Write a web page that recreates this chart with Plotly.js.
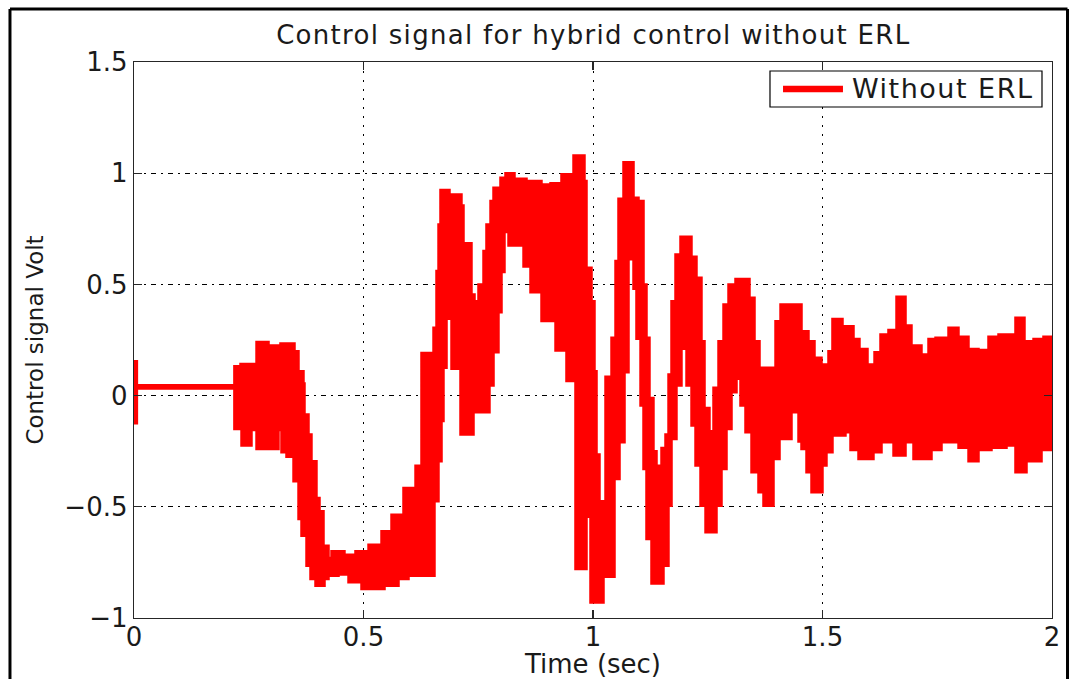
<!DOCTYPE html>
<html>
<head>
<meta charset="utf-8">
<script src="https://cdn.plot.ly/plotly-3.0.1.min.js"></script>
<style>
  html, body { margin: 0; padding: 0; background: #ffffff; }
  #chart { width: 1070px; height: 679px; }
  .gtitle { letter-spacing: 1.3px; }
  .annotation-text { letter-spacing: 1.5px; }
</style>
</head>
<body>
<div id="chart"></div>
<script>
// ---- data (upper / lower envelope of the dense control signal) ----
const timeUpper = [0, 0.003, 0.222, 0.2353, 0.2702, 0.2898, 0.2963, 0.3224, 0.3464, 0.3551, 0.366, 0.3682, 0.3769, 0.3834, 0.3943, 0.4009, 0.4096, 0.4205, 0.4336, 0.4553, 0.4858, 0.5142, 0.5425, 0.5643, 0.5904, 0.6166, 0.6296, 0.6492, 0.6558, 0.6623, 0.6667, 0.671, 0.6841, 0.695, 0.7102, 0.7146, 0.732, 0.7386, 0.7538, 0.7647, 0.7712, 0.78, 0.7865, 0.8017, 0.8126, 0.8257, 0.8344, 0.8519, 0.8584, 0.8845, 0.9107, 0.9237, 0.9346, 0.9542, 0.9608, 0.9782, 0.9826, 0.9935, 1.0, 1.0044, 1.0109, 1.0196, 1.0305, 1.0436, 1.0523, 1.0588, 1.0697, 1.085, 1.0959, 1.1068, 1.1133, 1.1198, 1.1285, 1.1351, 1.1525, 1.1612, 1.1678, 1.1743, 1.183, 1.1939, 1.2113, 1.2222, 1.2331, 1.2397, 1.2505, 1.2658, 1.2767, 1.2876, 1.2985, 1.3137, 1.3377, 1.3486, 1.3595, 1.3704, 1.4009, 1.4118, 1.451, 1.4662, 1.4793, 1.4946, 1.5054, 1.5163, 1.525, 1.5403, 1.5643, 1.5773, 1.5948, 1.61, 1.6166, 1.6296, 1.647, 1.6645, 1.6776, 1.6906, 1.7124, 1.7342, 1.7495, 1.7778, 1.793, 1.8148, 1.8366, 1.8649, 1.8867, 1.9237, 1.9368, 1.963, 1.9847, 2.0];
const voltUpper = [0.148, 0.04, 0.125, 0.135, 0.234, 0.148, 0.218, 0.228, 0.193, 0.103, 0.048, -0.092, -0.182, -0.302, -0.467, -0.527, -0.682, -0.737, -0.707, -0.722, -0.707, -0.677, -0.617, -0.542, -0.422, -0.322, 0.185, 0.043, 0.298, 0.553, 0.763, 0.918, 0.883, 0.898, 0.848, 0.678, 0.448, 0.418, 0.493, 0.643, 0.763, 0.868, 0.928, 0.973, 0.993, 0.958, 0.968, 0.898, 0.958, 0.943, 0.948, 0.858, 0.988, 0.853, 1.073, 0.958, 0.568, 0.418, 0.103, -0.272, -0.482, -0.557, 0.078, 0.253, 0.598, 0.878, 1.043, 0.883, 0.868, 0.493, 0.253, -0.017, -0.257, -0.322, -0.242, -0.182, 0.088, 0.418, 0.628, 0.708, 0.618, 0.523, 0.238, -0.062, -0.167, 0.028, 0.238, 0.403, 0.493, 0.518, 0.433, 0.238, 0.088, 0.118, 0.328, 0.403, 0.283, 0.238, 0.163, 0.073, 0.133, 0.193, 0.338, 0.305, 0.248, 0.203, 0.133, 0.073, 0.188, 0.268, 0.288, 0.438, 0.308, 0.218, 0.178, 0.248, 0.253, 0.298, 0.258, 0.203, 0.198, 0.258, 0.268, 0.343, 0.238, 0.248, 0.258, 0.258];
const timeLower = [0, 0.003, 0.222, 0.2375, 0.2527, 0.2702, 0.3115, 0.3246, 0.3355, 0.3508, 0.3617, 0.3682, 0.3791, 0.3878, 0.3987, 0.4118, 0.4205, 0.4423, 0.4706, 0.4989, 0.5425, 0.573, 0.5948, 0.6514, 0.6601, 0.6667, 0.671, 0.6776, 0.6841, 0.695, 0.7146, 0.7364, 0.7712, 0.78, 0.7908, 0.7974, 0.8039, 0.8192, 0.8519, 0.8671, 0.8911, 0.9216, 0.9455, 0.9651, 0.9826, 0.9978, 1.0196, 1.0436, 1.0545, 1.0654, 1.0741, 1.085, 1.0915, 1.098, 1.1068, 1.1133, 1.1198, 1.1307, 1.1503, 1.1612, 1.1678, 1.1786, 1.1895, 1.207, 1.2179, 1.2266, 1.2375, 1.2484, 1.2658, 1.2767, 1.2876, 1.2985, 1.3094, 1.3246, 1.3355, 1.3486, 1.3638, 1.3747, 1.39, 1.4031, 1.4292, 1.451, 1.4575, 1.4684, 1.4793, 1.4967, 1.5054, 1.5185, 1.5468, 1.5512, 1.5643, 1.5817, 1.6078, 1.6253, 1.658, 1.6776, 1.7015, 1.7342, 1.756, 1.7996, 1.8214, 1.8366, 1.8649, 1.8976, 1.9237, 1.9412, 1.9521, 1.9739, 2.0];
const voltLower = [-0.118, 0.04, -0.143, -0.218, -0.148, -0.233, -0.148, -0.248, -0.268, -0.378, -0.548, -0.623, -0.758, -0.818, -0.848, -0.818, -0.803, -0.798, -0.833, -0.863, -0.848, -0.818, -0.803, -0.468, -0.288, -0.108, 0.132, 0.352, 0.547, 0.127, -0.168, -0.068, 0.052, 0.202, 0.382, 0.562, 0.742, 0.682, 0.587, 0.472, 0.342, 0.209, 0.072, -0.773, -0.538, -0.923, -0.808, -0.368, -0.203, 0.112, 0.727, 0.62, 0.487, 0.262, -0.038, -0.323, -0.638, -0.838, -0.758, -0.488, -0.188, 0.052, 0.217, 0.052, -0.128, -0.308, -0.488, -0.608, -0.488, -0.323, -0.143, 0.022, 0.082, -0.038, -0.158, -0.338, -0.428, -0.488, -0.278, -0.188, -0.068, -0.2, -0.233, -0.338, -0.428, -0.308, -0.248, -0.173, -0.058, -0.158, -0.238, -0.278, -0.248, -0.203, -0.263, -0.203, -0.278, -0.238, -0.203, -0.228, -0.288, -0.238, -0.228, -0.218, -0.338, -0.228, -0.288, -0.238, -0.238];

const seriesName = 'Without ERL';
const xTickValues = [0, 0.5, 1, 1.5, 2];
const xTickLabels = ['0', '0.5', '1', '1.5', '2'];
const yTickValues = [-1, -0.5, 0, 0.5, 1, 1.5];
const yTickLabels = ['\u22121', '\u22120.5', '0', '0.5', '1', '1.5'];
const chartTitle = 'Control signal for hybrid control without ERL';
const xTitle = 'Time (sec)';
const yTitle = 'Control signal Volt';

// ---- styling ----
const RED = '#ff0000';
const INK = '#1a1a1a';
const FONT = 'DejaVu Sans, sans-serif';
const LW = 5.5;

const traces = [
  {
    x: timeUpper, y: voltUpper, type: 'scatter', mode: 'lines',
    name: seriesName, showlegend: false, hoverinfo: 'skip',
    line: { color: RED, width: LW, shape: 'hv' }
  },
  {
    x: timeLower, y: voltLower, type: 'scatter', mode: 'lines',
    name: seriesName, showlegend: false, hoverinfo: 'skip',
    fill: 'tonexty', fillcolor: RED,
    line: { color: RED, width: LW, shape: 'hv' }
  }
];

const axisCommon = {
  showline: true, linecolor: '#262626', linewidth: 1.3, mirror: 'ticks',
  ticks: 'inside', ticklen: 8, tickwidth: 1.3, tickcolor: '#262626',
  zeroline: false, showgrid: true, gridcolor: '#000000', gridwidth: 1,
  tickfont: { family: FONT, size: 26, color: INK },
  fixedrange: true
};

// legend box drawn in paper coordinates (top-right corner of the axes)
const legendBox = { x0: 0.6928, x1: 0.9891, y0: 0.9191, y1: 0.9838 };
const legendMidY = (legendBox.y0 + legendBox.y1) / 2;

const layout = {
  width: 1070, height: 679,
  margin: { l: 134, r: 18, t: 62, b: 61 },
  paper_bgcolor: '#ffffff', plot_bgcolor: '#ffffff',
  font: { family: FONT, color: INK },
  showlegend: false,
  title: {
    text: chartTitle, font: { family: FONT, size: 26, color: INK },
    x: 0.5545, xanchor: 'center', y: 0.949, yanchor: 'middle'
  },
  xaxis: Object.assign({}, axisCommon, {
    range: [0, 2], tickmode: 'array', tickvals: xTickValues, ticktext: xTickLabels,
    griddash: '2px,7px', ticklabelstandoff: -5,
    title: { text: xTitle, font: { family: FONT, size: 26, color: INK }, standoff: 4 }
  }),
  yaxis: Object.assign({}, axisCommon, {
    range: [-1, 1.5], tickmode: 'array', tickvals: yTickValues, ticktext: yTickLabels,
    griddash: '5px,5px,2px,5px',
    title: { text: yTitle, font: { family: FONT, size: 23, color: INK }, standoff: 14 }
  }),
  shapes: [
    // outer figure frame
    { type: 'line', xref: 'paper', yref: 'paper', x0: -0.1351, x1: -0.1351, y0: -0.2, y1: 1.0953, line: { color: '#000000', width: 3 } },
    { type: 'line', xref: 'paper', yref: 'paper', x0: -0.1351, x1: 1.0169, y0: 1.0953, y1: 1.0953, line: { color: '#000000', width: 3 } },
    { type: 'line', xref: 'paper', yref: 'paper', x0: 1.0169, x1: 1.0169, y0: -0.2, y1: 1.0953, line: { color: '#000000', width: 3 } },
    // legend box and its line sample
    { type: 'rect', xref: 'paper', yref: 'paper', layer: 'above',
      x0: legendBox.x0, x1: legendBox.x1, y0: legendBox.y0, y1: legendBox.y1,
      fillcolor: '#ffffff', line: { color: '#000000', width: 1.2 } },
    { type: 'line', xref: 'paper', yref: 'paper', layer: 'above',
      x0: 0.7070, x1: 0.7723, y0: legendMidY, y1: legendMidY,
      line: { color: RED, width: 6.5 } }
  ],
  annotations: [
    { xref: 'paper', yref: 'paper', x: 0.7800, y: legendMidY, xanchor: 'left', yanchor: 'middle',
      text: seriesName, showarrow: false, font: { family: FONT, size: 27, color: INK } }
  ]
};

Plotly.newPlot('chart', traces, layout, { displayModeBar: false, staticPlot: true });
</script>
</body>
</html>
